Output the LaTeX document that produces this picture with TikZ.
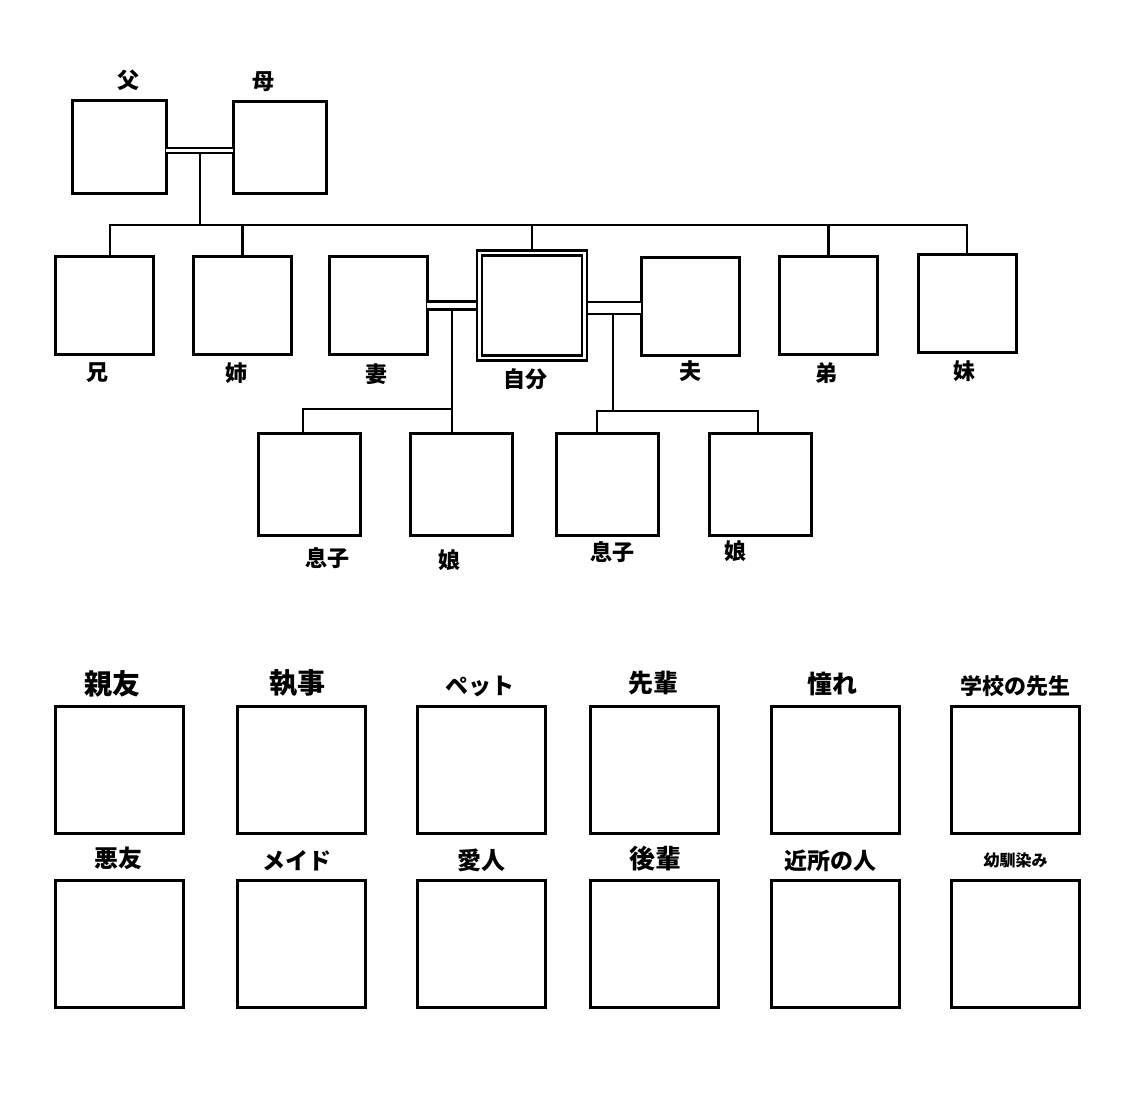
\documentclass[tikz,border=0pt]{standalone}
\usepackage{fontspec}
\newfontfamily\jp{Noto Sans CJK JP}
\usetikzlibrary{positioning}

\begin{document}
\begin{tikzpicture}[x=1pt, y=-1pt, line width=2.2pt,
	pbox/.style={rectangle, draw, line width=3pt, inner sep=0pt, outer sep=0pt,
				minimum width=98pt, minimum height=97pt},
	mebox/.style={pbox, double, line width=2.4pt, double distance=2.8pt,
				minimum size=105pt, outer sep=3.8pt},
	kbox/.style={pbox, minimum size=102pt},
	cbox/.style={pbox, minimum width=128pt, minimum height=127pt},
	lbl/.style={font=\jp\bfseries\fontsize{#1}{#1}\selectfont, inner sep=0pt},
	lbl/.default=22,
	wed/.style={double, line width=2.2pt, double distance=#1},
]
\useasboundingbox (0,0) rectangle (1125,1102);
% parents
\node [pbox, minimum width=94pt, minimum height=93pt] (Fa) at (119,147.5) {};
\node [pbox, minimum width=93pt, minimum height=92pt] (Mo) at (279.5,147.5) {};
\node [lbl, above=9pt of Fa, xshift=9pt]   (tFa) {父};
\node [lbl, above=9pt of Mo, xshift=-16pt] (tMo) {母};
%
% siblings, spouses
\node [pbox] (Ani)  at (104.5,305.5) {};
\node [pbox] (Ane)  at (242.5,305.5) {};
\node [pbox] (Tsu)  at (378,305.5) {};
\node [mebox] (Me)  at (532,305.5) {};
\node [pbox] (Otto) at (690,306.5) {};
\node [pbox] (Oto)  at (828.5,305.5) {};
\node [pbox] (Imo)  at (967,303.5) {};
\node [lbl, below=8pt of Ani, xshift=-7pt]  (tAni)  {兄};
\node [lbl, below=8pt of Ane, xshift=-6pt]  (tAne)  {姉};
\node [lbl, below=9pt of Tsu, xshift=-2pt]  (tTsu)  {妻};
\node [lbl, below=6pt of Me, xshift=-7pt]   (tMe)   {自分};
\node [lbl, below=5pt of Otto]              (tOtto) {夫};
\node [lbl, below=8pt of Oto, xshift=-2pt]  (tOto)  {弟};
\node [lbl, below=8pt of Imo, xshift=-3pt]  (tImo)  {妹};
%
% children
\node [kbox] (So1) at (309,484) {};
\node [kbox] (Da1) at (461.5,484) {};
\node [kbox] (So2) at (607,484) {};
\node [kbox] (Da2) at (760,484) {};
\node [lbl, below=11pt of So1, xshift=18pt]  (tSo1) {息子};
\node [lbl, below=14pt of Da1, xshift=-12pt] (tDa1) {娘};
\node [lbl, below=5pt of So2, xshift=5pt]    (tSo2) {息子};
\node [lbl, below=5pt of Da2, xshift=-25pt]  (tDa2) {娘};
%
\coordinate (FM)  at (200,153.5);
\coordinate (sib) at (200,225);
\coordinate (WJ)  at (452,310);
\coordinate (WB)  at (452,409);
\coordinate (HJ)  at (613,314.5);
\coordinate (HB)  at (613,411);
%
\draw [wed=3pt] ([yshift=-3pt]Fa.east) -- ([yshift=-3pt]Mo.west);
\draw (FM) -- (sib);
\draw ([xshift=5.5pt]Ani.north) |- (sib) -| (Imo.north);
\draw (Ane.north) -- (Ane.north |- sib);
\draw (Me.north) -- (Me.north |- sib);
\draw (Oto.north) -- (Oto.north |- sib);
%
\draw [wed=5.8pt] (Tsu.east) -- (Me.west);
\draw [wed=9.8pt] ([yshift=-2.5pt]Me.east) -- ([yshift=-2.5pt]Me.east -| Otto.west);
\draw (WJ) -- (WB);
\draw ([xshift=-6pt]So1.north) |- (WB) -- (WB |- Da1.north);
\draw (HJ) -- (HB);
\draw ([xshift=-10pt]So2.north) |- (HB) -| ([xshift=-2pt]Da2.north);
%
% others
\node [cbox] (A1) at (119,769.5) {};
\node [cbox] (A2) at (301,769.5) {};
\node [cbox] (A3) at (481,769.5) {};
\node [cbox] (A4) at (654,769.5) {};
\node [cbox] (A5) at (835.5,769.5) {};
\node [cbox] (A6) at (1015.5,769.5) {};
\node [cbox] (B1) at (119,944) {};
\node [cbox] (B2) at (301,944) {};
\node [cbox] (B3) at (481,944) {};
\node [cbox] (B4) at (654,944) {};
\node [cbox] (B5) at (835.5,944) {};
\node [cbox] (B6) at (1015.5,944) {};
\node [lbl=28, above=8pt of A1, xshift=-7pt]   (tA1) {親友};
\node [lbl=28, above=8pt of A2, xshift=-4pt]   (tA2) {執事};
\node [lbl=23, above=8.5pt of A3, xshift=-1pt] (tA3) {ペット};
\node [lbl=25, above=9.5pt of A4, xshift=-1pt] (tA4) {先輩};
\node [lbl=25, above=9.5pt of A5, xshift=-3.5pt] (tA5) {憧れ};
\node [lbl=22, above=8pt of A6]                (tA6) {学校の先生};
\node [lbl=24, above=10pt of B1, xshift=-1pt]  (tB1) {悪友};
\node [lbl=23, above=8.5pt of B2, xshift=-4pt] (tB2) {メイド};
\node [lbl=24, above=8pt of B3]                (tB3) {愛人};
\node [lbl=26, above=8pt of B4, xshift=1pt]    (tB4) {後輩};
\node [lbl=23, above=7.5pt of B5, xshift=-5.5pt] (tB5) {近所の人};
\node [lbl=16, above=11pt of B6]               (tB6) {幼馴染み};
\end{tikzpicture}
\end{document}
